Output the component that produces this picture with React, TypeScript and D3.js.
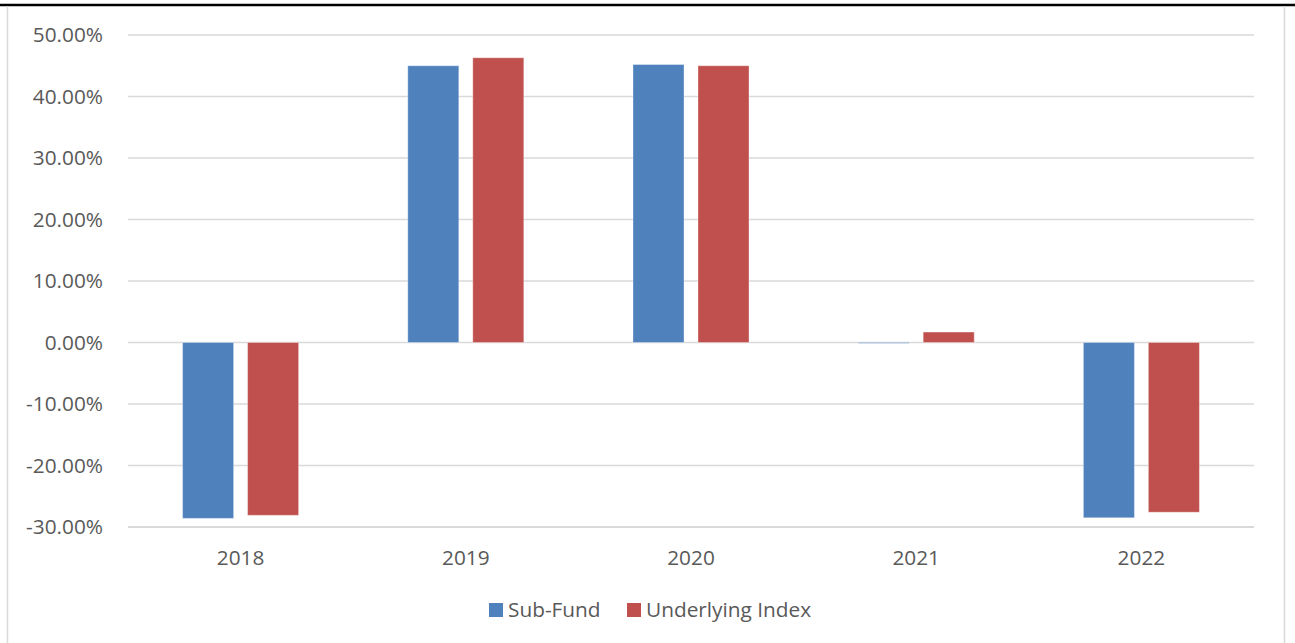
import * as d3 from 'd3';

const years = ['2018', '2019', '2020', '2021', '2022'];
const subFund = [-28.6, 45.0, 45.2, -0.1, -28.5];
const underlyingIndex = [-28.1, 46.3, 45.0, 1.7, -27.6];
const yTicks = [50, 40, 30, 20, 10, 0, -10, -20, -30];
const seriesNames = ['Sub-Fund', 'Underlying Index'];
const seriesColors = ['#4F81BD', '#C0504D'];

const W = 1295;
const H = 643;
const PLOT = { left: 128, right: 1254, top: 35, bottom: 527 };
const FONT = '"Open Sans", "Noto Sans", sans-serif';
const TEXT = '#595959';
const GRID = '#d9d9d9';
const FS = 20.8;

export default function App() {
  const x = d3.scaleBand<string>().domain(years).range([PLOT.left, PLOT.right]).paddingInner(0).paddingOuter(0);
  const y = d3.scaleLinear().domain([-30, 50]).range([PLOT.bottom, PLOT.top]);
  // two bars per year, with a small gap between them
  const sub = d3.scaleBand<number>().domain([0, 1]).range([0, x.bandwidth()]).paddingInner(0.215).paddingOuter(0.84);
  const fmt = (v: number) => `${v.toFixed(2)}%`;
  const series = [subFund, underlyingIndex];

  return (
    <svg width={W} height={H} style={{ position: 'absolute', left: 0, top: 0, display: 'block', background: '#fff' }}>
      {/* frame */}
      <line x1={0} x2={W} y1={5} y2={5} stroke="#000" strokeWidth={2.5} />
      <line x1={7.5} x2={7.5} y1={6} y2={H} stroke={GRID} strokeWidth={1.5} />
      <line x1={1284.5} x2={1284.5} y1={6} y2={H} stroke={GRID} strokeWidth={1.5} />

      {/* grid + y labels */}
      {yTicks.map(t => (
        <g key={t}>
          <line x1={PLOT.left} x2={PLOT.right} y1={y(t)} y2={y(t)} stroke={GRID} strokeWidth={t === -30 ? 2 : 1.5} />
          <text x={103} y={y(t)} dy="0.36em" textAnchor="end" fill={TEXT} fontFamily={FONT} fontSize={FS}>{fmt(t)}</text>
        </g>
      ))}

      {/* bars */}
      {series.map((vals, si) => (
        <g key={si}>
          {vals.map((v, i) => {
            const bx = (x(years[i]) ?? 0) + (sub(si) ?? 0);
            const top = y(Math.max(0, v));
            const h = Math.max(Math.abs(y(v) - y(0)), 0.8);
            return (
              <rect key={i} x={bx} y={top} width={sub.bandwidth()} height={h}
                fill={seriesColors[si]} stroke="#fff" strokeOpacity={0.35} strokeWidth={1} />
            );
          })}
        </g>
      ))}

      {/* x labels */}
      {years.map(yr => (
        <text key={yr} x={(x(yr) ?? 0) + x.bandwidth() / 2} y={565} textAnchor="middle" fill={TEXT} fontFamily={FONT} fontSize={FS}>{yr}</text>
      ))}

      {/* legend */}
      {seriesNames.map((name, i) => {
        const lx = [489, 627][i];
        return (
          <g key={name}>
            <rect x={lx} y={603} width={14} height={14} fill={seriesColors[i]} />
            <text x={lx + 19} y={617} fill={TEXT} fontFamily={FONT} fontSize={FS}>{name}</text>
          </g>
        );
      })}
    </svg>
  );
}
